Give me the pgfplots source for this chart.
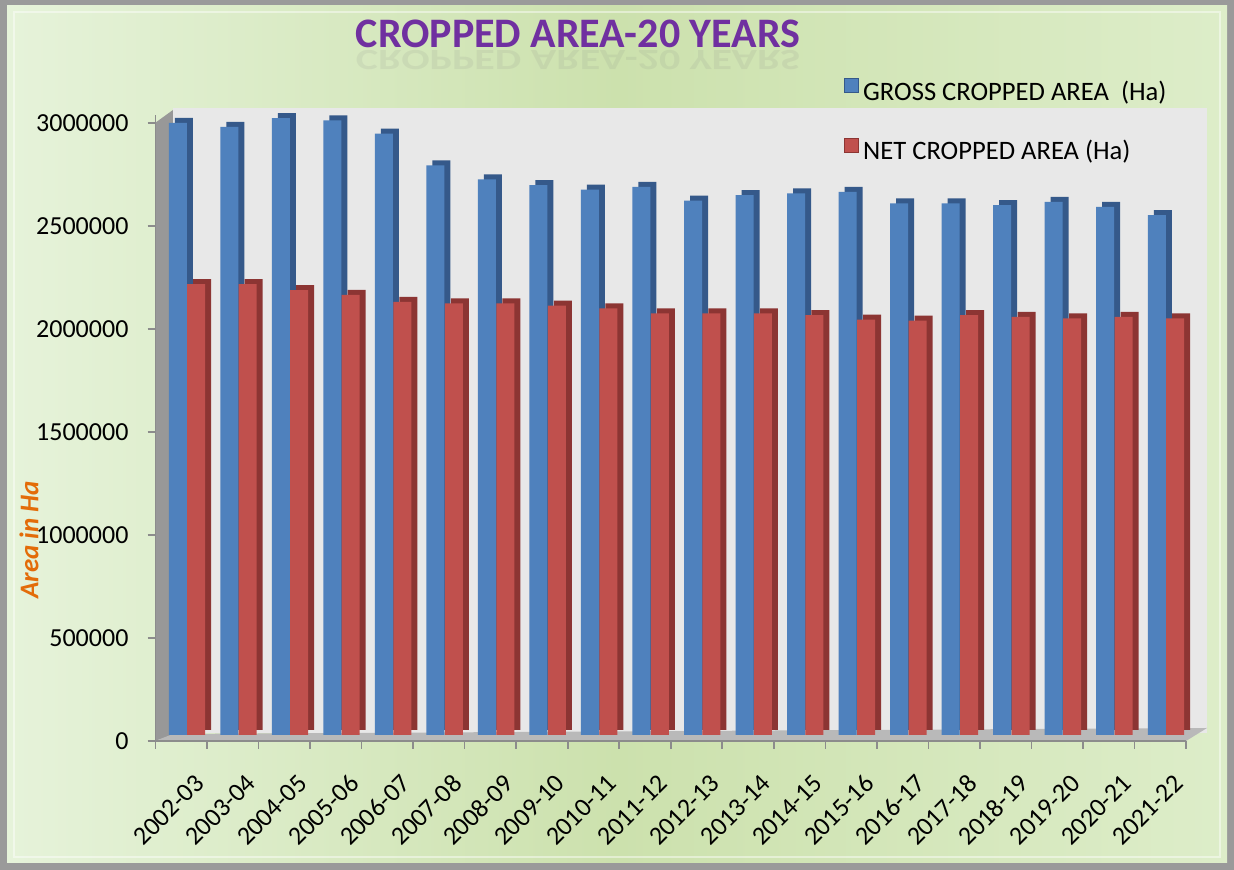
\documentclass[border=0pt]{standalone}
\usepackage{pgfplots}
\pgfplotsset{compat=1.18}
\usepackage{fontspec}
\setmainfont{Carlito}
\definecolor{bluefront}{HTML}{4F81BD}
\definecolor{blueside}{HTML}{35598A}
\definecolor{redfront}{HTML}{C0504D}
\definecolor{redside}{HTML}{8C3533}
\definecolor{framegray}{HTML}{9A9A9A}
\definecolor{bgL}{HTML}{E6F3DA}
\definecolor{bgM}{HTML}{CCE1AD}
\definecolor{bgR}{HTML}{DDEDC9}
\definecolor{wallback}{HTML}{E8E8E8}
\definecolor{wallside}{HTML}{989898}
\definecolor{floorgray}{HTML}{B9B9B9}
\definecolor{axisgray}{HTML}{8C8C8C}
\definecolor{titlepurple}{HTML}{7030A0}
\definecolor{labelorange}{HTML}{E36C09}
\begin{document}
\begin{tikzpicture}
\useasboundingbox (0,0) rectangle (617pt,435pt);
\begin{scope}[shift={(0pt,435pt)}, x=0.5pt, y=-0.5pt]
\fill[framegray] (0,0) rectangle (1234,870);
\shade[left color=bgL, right color=bgR, middle color=bgM] (7,6) rectangle (1227,863);
\draw[white, opacity=0.45, line width=1pt] (14,12) rectangle (1220,857);
\fill[wallside] (155,123) -- (173,110) -- (173,735) -- (155,741) -- cycle;
\fill[wallback] (173,108) rectangle (1207,733);
\fill[floorgray] (155,741) -- (1186,741) -- (1207,728) -- (173,734) -- cycle;
\node[font=\bfseries\fontsize{21}{24}\selectfont, text=gray, text opacity=0.12, yscale=-0.7] at (578,60) {CROPPED AREA-20 YEARS};
\node[font=\bfseries\fontsize{21}{24}\selectfont, text=titlepurple] at (578,34) {CROPPED AREA-20 YEARS};
\node[rotate=90, font=\bfseries\itshape\fontsize{13.5}{16}\selectfont, text=labelorange] at (29,540) {Area in Ha};
\end{scope}
\begin{axis}[
  at={(77.75pt,64.5pt)}, anchor=south west,
  scale only axis, width=515.25pt, height=313.1pt,
  xmin=-0.5, xmax=19.5, ymin=0, ymax=3040000,
  scaled y ticks=false,
  axis lines*=left,
  axis line style={draw=axisgray, line width=0.8pt},
  ybar, bar width=9pt, clip=false,
  tick align=outside,
  tick style={draw=axisgray, line width=0.8pt},
  major tick length=4pt,
  xtick={-0.5,0.5,1.5,2.5,3.5,4.5,5.5,6.5,7.5,8.5,9.5,10.5,11.5,12.5,13.5,14.5,15.5,16.5,17.5,18.5,19.5},
  xticklabels={},
  extra x ticks={0,1,2,3,4,5,6,7,8,9,10,11,12,13,14,15,16,17,18,19},
  extra x tick labels={2002-03,2003-04,2004-05,2005-06,2006-07,2007-08,2008-09,2009-10,2010-11,2011-12,2012-13,2013-14,2014-15,2015-16,2016-17,2017-18,2018-19,2019-20,2020-21,2021-22},
  extra x tick style={major tick length=0pt, xticklabel style={rotate=45, anchor=east, xshift=-3.5pt, yshift=-20pt}},
  ytick={0,500000,1000000,1500000,2000000,2500000,3000000},
  yticklabels={0,500000,1000000,1500000,2000000,2500000,3000000},
  yticklabel style={xshift=-6pt},
  ticklabel style={font=\fontsize{13}{15}\selectfont},
  legend style={at={(0.6623,1.068)}, anchor=north west, draw=none, fill=none,
    font=\fontsize{13.3}{15}\selectfont, row sep=14.5pt},
  legend cell align=left,
]
\addplot[forget plot, fill=blueside, draw=none, bar shift=1.25pt, yshift=5.5pt] coordinates {
(0,2971000) (1,2952000) (2,2995000) (3,2984000) (4,2919000) (5,2765000) (6,2697000) (7,2669000) (8,2648000) (9,2661000)
(10,2594000) (11,2621000) (12,2629000) (13,2637000) (14,2581000) (15,2581000) (16,2572000) (17,2588000) (18,2564000) (19,2524000)};
\addplot[fill=bluefront, draw=none, bar shift=-1.75pt, yshift=3pt,
  legend image code/.code={\draw[draw=blueside, fill=bluefront] (0pt,-3.5pt) rectangle (7pt,3.5pt);}] coordinates {
(0,2971000) (1,2952000) (2,2995000) (3,2984000) (4,2919000) (5,2765000) (6,2697000) (7,2669000) (8,2648000) (9,2661000)
(10,2594000) (11,2621000) (12,2629000) (13,2637000) (14,2581000) (15,2581000) (16,2572000) (17,2588000) (18,2564000) (19,2524000)};
\addplot[forget plot, fill=redside, draw=none, bar shift=10.45pt, yshift=5.5pt] coordinates {
(0,2189000) (1,2189000) (2,2160000) (3,2136000) (4,2103000) (5,2095000) (6,2095000) (7,2084000) (8,2071000) (9,2047000)
(10,2047000) (11,2047000) (12,2038000) (13,2017000) (14,2011000) (15,2038000) (16,2030000) (17,2022000) (18,2030000) (19,2022000)};
\addplot[fill=redfront, draw=none, bar shift=7.45pt, yshift=3pt,
  legend image code/.code={\draw[draw=redside, fill=redfront] (0pt,-3.5pt) rectangle (7pt,3.5pt);}] coordinates {
(0,2189000) (1,2189000) (2,2160000) (3,2136000) (4,2103000) (5,2095000) (6,2095000) (7,2084000) (8,2071000) (9,2047000)
(10,2047000) (11,2047000) (12,2038000) (13,2017000) (14,2011000) (15,2038000) (16,2030000) (17,2022000) (18,2030000) (19,2022000)};
\addlegendentry{GROSS CROPPED AREA\ \ (Ha)}
\addlegendentry{NET CROPPED AREA (Ha)}
\end{axis}
\end{tikzpicture}
\end{document}
